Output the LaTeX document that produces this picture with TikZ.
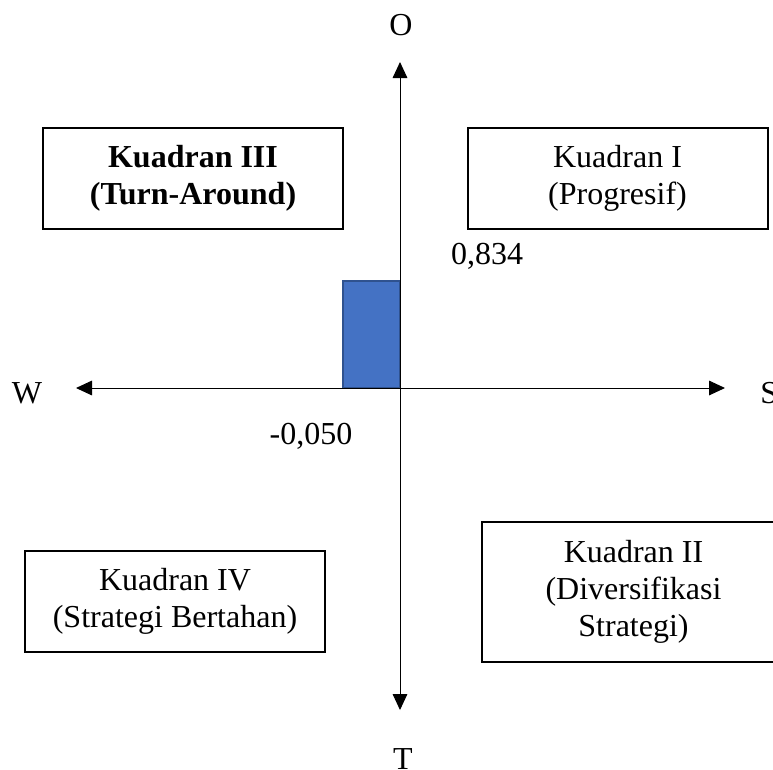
\documentclass[tikz,border=0pt]{standalone}
\usepackage{fontspec}
\setmainfont{Liberation Serif}
\usepackage{xcolor}
\usepackage{tikz}
\usetikzlibrary{arrows.meta, positioning}
\definecolor{barblue}{HTML}{4472C4}
\definecolor{barline}{HTML}{2F528F}

\begin{document}
\begin{tikzpicture}[x=0.75pt, y=-0.75pt,
    every node/.style={font=\fontsize{24}{27.6}\selectfont, inner sep=0pt},
    kuadran/.style={draw, line width=1.5pt, align=center, minimum width=225pt, minimum height=75.75pt},
    sumbu/.style={{Triangle[length=12pt,width=11pt]}-{Triangle[length=12pt,width=11pt]}, line width=0.75pt}]
    \useasboundingbox (0,0) rectangle (773,769);

    % Bar
    \draw[fill=barblue, draw=barline, line width=1.2pt] (343,281) rectangle (400,388);

    % Axes
    \coordinate (atas) at (400,62);
    \coordinate (bawah) at (400,710);
    \coordinate (kiri) at (76,388);
    \coordinate (kanan) at (725,388);
    \draw[sumbu] (kiri) -- (kanan);
    \draw[sumbu] (atas) -- (bawah);

    % Axis labels
    \node (O) at (401,25) {O};
    \node (T) at (403,759) {T};
    \node (W) at (27,393) {W};
    \node[anchor=west] (S) at (760,393) {S};

    % Values
    \node (nilaiY) at (487,256) {0,834};
    \node (nilaiX) at (311,436) {-0,050};

    % Quadrants
    \node[kuadran, font=\fontsize{24}{27.6}\selectfont\bfseries] (k3) at (193,178.5) {Kuadran III\\(Turn-Around)};
    \node[kuadran] (k1) at (617.5,178.5) {Kuadran I\\(Progresif)};
    \node[kuadran] (k4) at (175,601.5) {Kuadran IV\\(Strategi Bertahan)};
    \node[kuadran, minimum width=227pt, minimum height=105pt] (k2) at (633.5,592) {Kuadran II\\(Diversifikasi\\Strategi)};
\end{tikzpicture}
\end{document}
